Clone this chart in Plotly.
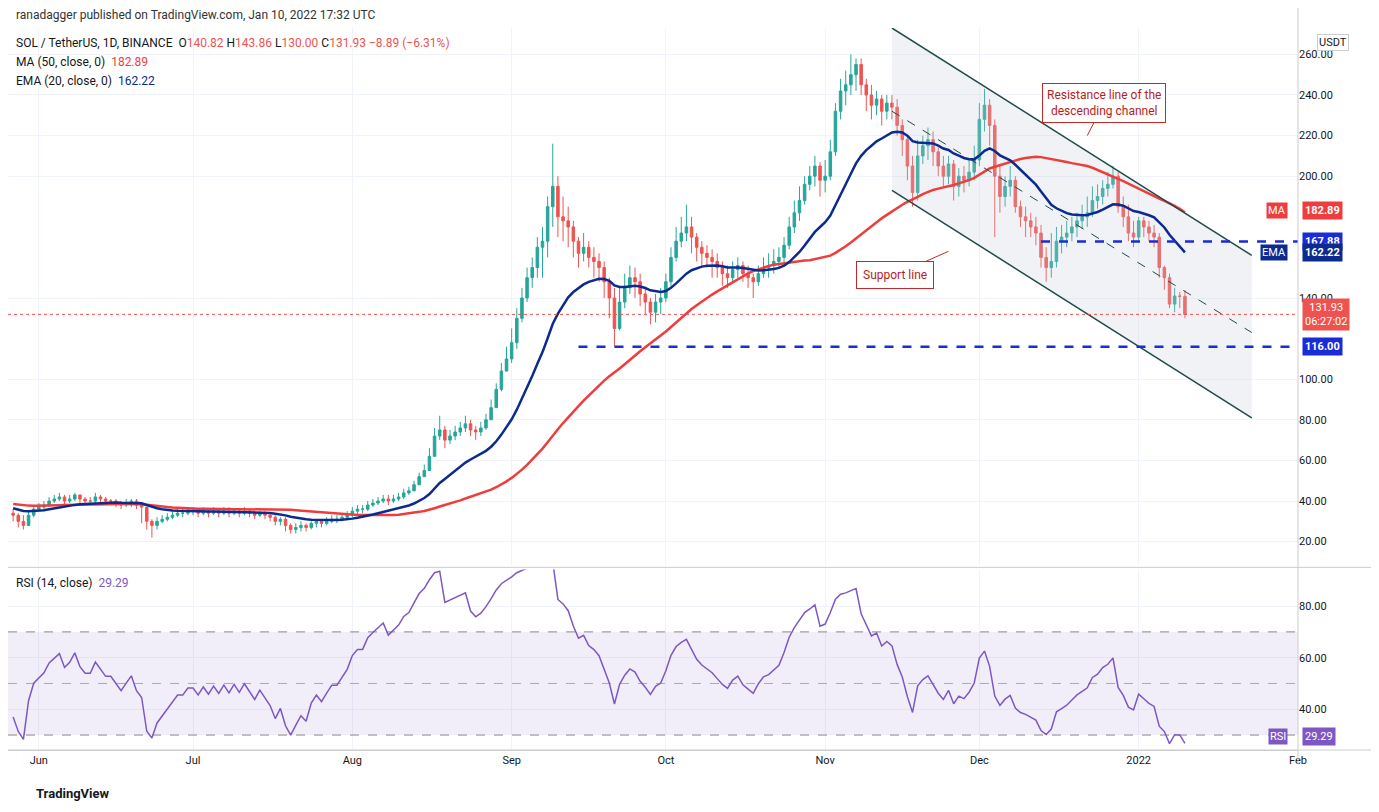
import pandas as pd
import numpy as np
import plotly.graph_objects as go

# earlier May closes (warm-up for indicators, outside visible range)
warmup = [42,43,44,45,44,43,42,43,44,43,42,40,38,36,35,37,34,33,35,37,36,34,33,35,36,34]
dates = pd.date_range("2021-05-27", "2022-01-10", freq="D")

close = [33,30,28,33,36,
 37,38,40,41,42,40,41,43,41,40,40,42,41,40,40,39,38,39,40,38,37,30,28,30,31,32,33,34,34,35,
 35,34,35,34,35,34,35,34,35,34,35,34,33,34,33,32,30,31,28,26,27,28,27,29,30,29,30,31,31,32,33,
 35,36,36,38,39,40,41,40,41,42,44,45,48,52,55,62,72,75,70,72,74,76,78,75,74,76,80,86,95,104,110,
 118,130,140,150,155,165,168,185,195,180,178,175,168,162,165,160,158,155,148,140,125,138,145,150,148,142,138,133,138,140,
 148,160,168,172,175,170,165,162,160,158,155,152,150,154,156,152,150,148,152,155,156,158,160,166,175,182,188,196,200,205,198,
 200,212,232,242,245,250,255,245,240,235,238,232,236,234,225,218,205,192,210,215,218,212,205,200,206,195,200,198,202,208,
 228,235,225,200,190,195,198,185,180,178,175,172,160,155,158,168,170,172,175,178,180,182,188,190,194,196,200,185,180,172,170,
 178,175,172,170,155,150,137,141,140.82,131.93]
high = [36,34,33,35,38,
 39,40,42,43,44,43,43,44,43,42,42,44,43,42,41,41,40,41,41,41,39,37,31,32,33,34,35,36,36,37,
 37,36,37,36,37,36,37,37,36,36,37,36,35,35,35,34,33,32,32,29,29,30,29,30,31,31,32,33,33,34,35,
 37,38,38,40,41,42,43,43,43,44,46,47,50,54,58,66,76,82,77,75,77,79,82,80,77,79,83,90,98,108,116,
 125,135,145,155,160,170,175,190,216,200,190,185,178,170,172,168,165,162,158,150,145,145,152,156,155,152,145,140,142,145,
 152,165,175,180,186,180,172,168,166,164,162,158,156,158,160,158,156,152,156,160,162,164,165,170,180,188,195,200,205,210,207,
 208,218,236,248,252,260,258,258,248,245,242,240,240,240,238,228,220,210,218,220,224,222,214,210,210,208,204,205,208,215,
 236,243,238,228,205,200,205,200,188,185,182,180,176,165,172,175,176,178,180,182,186,190,195,196,198,202,205,202,190,186,178,
 180,180,178,176,172,156,152,145,143,143.86]
low = [30,27,26,28,32,
 35,36,37,39,40,38,39,40,39,38,38,39,39,38,38,37,36,37,37,36,29,26,22,26,29,30,31,32,32,33,
 33,32,33,32,33,32,33,32,33,32,33,32,31,32,31,30,28,28,25,24,24,25,25,26,27,27,28,29,29,30,31,
 32,33,34,35,37,38,39,38,39,40,41,43,45,48,52,55,62,70,66,68,70,72,74,72,70,72,75,80,86,94,104,
 108,115,128,138,145,150,150,160,175,170,168,165,160,155,158,155,150,148,140,130,116,124,135,142,140,136,132,127,128,132,
 138,145,158,165,168,162,158,156,155,150,150,146,145,148,150,148,145,140,146,150,150,152,155,156,164,172,178,186,193,195,190,
 192,198,210,228,235,240,242,240,232,228,230,225,228,228,220,210,198,185,188,206,208,205,200,195,196,188,190,192,195,198,
 205,222,215,170,182,185,190,182,175,170,170,166,155,148,150,155,162,165,168,170,174,175,180,184,186,190,194,182,175,168,165,
 168,170,168,165,150,144,135,133,135,130]
opn = [warmup[-1]] + close[:-1]

tick_dates = ["2021-06-01","2021-07-01","2021-08-01","2021-09-01","2021-10-01","2021-11-01","2021-12-01","2022-01-01","2022-02-01"]
tick_text = ["Jun","Jul","Aug","Sep","Oct","Nov","Dec","2022","Feb"]
price_ticks = [20,40,60,80,100,140,200,220,240,260]
rsi_ticks = [40,60,80]

chan_dates = ["2021-11-14","2022-01-23"]
chan_upper = [273,161]
chan_lower = [193,81]
chan_mid = [232,123]
support_116 = ["2021-09-14", 116.00]
level_168 = ["2021-12-13", 167.88]
last_close = 131.93

full = pd.Series(warmup + close, index=pd.date_range(end="2022-01-10", periods=len(warmup)+len(close), freq="D"))
ma50 = full.rolling(50, min_periods=1).mean().loc[dates]
ema20 = full.ewm(span=20, adjust=False).mean().loc[dates]
d = full.diff().fillna(0)
up = d.clip(lower=0).ewm(alpha=1/14, adjust=False).mean()
dn = (-d.clip(upper=0)).ewm(alpha=1/14, adjust=False).mean()
rsi = (100 - 100/(1+up/dn)).loc[dates]

GREEN, RED, BLUE, LBLUE = "#26a69a", "#ef5350", "#0d2a8f", "#1a2bd8"
X0, X1 = "2021-05-26", "2022-02-01"
fig = go.Figure()
fig.add_trace(go.Scatter(x=[chan_dates[0], chan_dates[1], chan_dates[1], chan_dates[0]],
    y=[chan_upper[0], chan_upper[1], chan_lower[1], chan_lower[0]], fill="toself", mode="lines",
    fillcolor="rgba(200,204,214,0.25)", line=dict(width=0), hoverinfo="skip"))
fig.add_trace(go.Candlestick(x=dates, open=opn, high=high, low=low, close=close,
    increasing=dict(line=dict(color=GREEN, width=1), fillcolor=GREEN),
    decreasing=dict(line=dict(color=RED, width=1), fillcolor=RED), whiskerwidth=0))
fig.add_trace(go.Scatter(x=dates, y=ma50, line=dict(color="#ef3d3d", width=2.5), mode="lines"))
fig.add_trace(go.Scatter(x=dates, y=ema20, line=dict(color=BLUE, width=2.5), mode="lines"))
for ys, dash, w in [(chan_upper, None, 1.5), (chan_lower, None, 1.5), (chan_mid, "dash", 1)]:
    fig.add_trace(go.Scatter(x=chan_dates, y=ys, mode="lines", line=dict(color="#1f4a4a", width=w, dash=dash)))
for start, lvl in [support_116, level_168]:
    fig.add_trace(go.Scatter(x=[start, X1], y=[lvl]*2, mode="lines", line=dict(color=LBLUE, width=2.5, dash="dash")))
fig.add_trace(go.Scatter(x=[X0, X1], y=[last_close]*2, mode="lines", line=dict(color=RED, width=1, dash="dot")))
# RSI
fig.add_trace(go.Scatter(x=[X0, X1], y=[70,70], mode="lines", line=dict(color="#888", width=1, dash="dash"), yaxis="y2"))
fig.add_trace(go.Scatter(x=[X0, X1], y=[30,30], mode="lines", line=dict(color="#888", width=1, dash="dash"),
    fill="tonexty", fillcolor="rgba(126,87,194,0.1)", yaxis="y2"))
fig.add_trace(go.Scatter(x=[X0, X1], y=[50,50], mode="lines", line=dict(color="#aaa", width=1, dash="dash"), yaxis="y2"))
fig.add_trace(go.Scatter(x=dates, y=rsi, mode="lines", line=dict(color="#7e57c2", width=1.5), yaxis="y2"))

TOP, BOT = 20, 742
def py(p): return (BOT - p) / (BOT - TOP)

ann = []
def lab(yv, txt, bg, yref="y"):
    ann.append(dict(x=1.003, xref="paper", y=yv, yref=yref, text=txt, showarrow=False, xanchor="left",
                    bgcolor=bg, font=dict(color="white", size=11, family="Roboto"), borderpad=2))
lab(182.89, "<b>182.89</b>", "#ef3d3d")
lab(167.88, "<b>167.88</b>", LBLUE)
lab(162.22, "<b>162.22</b>", BLUE)
lab(131.93, "131.93<br>06:27:02", RED)
lab(116.00, "<b>116.00</b>", LBLUE)
lab(29.29, "29.29", "#7e57c2", "y2")
HY = 16
ann += [
 dict(x=0.992, xref="paper", y=182.89, yref="y", text="MA", showarrow=False, xanchor="right", bgcolor="#ef3d3d", font=dict(color="white", size=11)),
 dict(x=0.992, xref="paper", y=162.22, yref="y", text="EMA", showarrow=False, xanchor="right", bgcolor=BLUE, font=dict(color="white", size=11)),
 dict(x=0.992, xref="paper", y=29.29, yref="y2", text="RSI", showarrow=False, xanchor="right", bgcolor="#7e57c2", font=dict(color="white", size=11)),
 dict(x=1.015, xref="paper", y=py(42-HY), yref="paper", text="USDT", showarrow=False, xanchor="left", bordercolor="#ccc", borderwidth=1, bgcolor="white", font=dict(size=11, color="#131722")),
 dict(x="2021-12-22", y=220, text="Resistance line of the<br>descending channel", showarrow=True, ax=17, ay=-33,
      arrowhead=0, arrowwidth=1, bgcolor="white", bordercolor="#c62828", borderwidth=1, borderpad=4,
      font=dict(size=12, color="#b71c1c"), arrowcolor="#c62828"),
 dict(x="2021-11-25", y=163, text="Support line", showarrow=True, ax=-54, ay=24, arrowhead=0, arrowwidth=1,
      arrowcolor="#c62828", bgcolor="white", bordercolor="#c62828",
      borderwidth=1, borderpad=6, font=dict(size=12, color="#b71c1c")),
 dict(x=0.005, xref="paper", y=py(14-HY), yref="paper", text="ranadagger published on TradingView.com, Jan 10, 2022 17:32 UTC", showarrow=False, xanchor="left", font=dict(size=12, color="#333")),
 dict(x=0.005, xref="paper", y=py(42-HY), yref="paper", xanchor="left", showarrow=False, font=dict(size=12, color="#131722"),
      text="SOL / TetherUS, 1D, BINANCE  O<span style='color:#ef5350'>140.82</span> H<span style='color:#ef5350'>143.86</span> L<span style='color:#ef5350'>130.00</span> C<span style='color:#ef5350'>131.93 −8.89 (−6.31%)</span>"),
 dict(x=0.005, xref="paper", y=py(61-HY), yref="paper", xanchor="left", showarrow=False, font=dict(size=12, color="#131722"),
      text="MA (50, close, 0)  <span style='color:#ef3d3d'>182.89</span>"),
 dict(x=0.005, xref="paper", y=py(80-HY), yref="paper", xanchor="left", showarrow=False, font=dict(size=12, color="#131722"),
      text="EMA (20, close, 0)  <span style='color:#0d2a8f'>162.22</span>"),
 dict(x=0.005, xref="paper", y=py(584), yref="paper", xanchor="left", showarrow=False, font=dict(size=12, color="#131722"),
      text="RSI (14, close)  <span style='color:#7e57c2'>29.29</span>"),
 dict(x=0.02, xref="paper", y=py(795), yref="paper", xanchor="left", showarrow=False, font=dict(size=13, color="#131722"),
      text="<b>TradingView</b>"),
]

fig.update_layout(
    width=1379, height=812, showlegend=False, plot_bgcolor="white", paper_bgcolor="white",
    margin=dict(l=0, r=89, t=TOP, b=812-BOT), font=dict(family="Roboto", size=11, color="#131722"),
    annotations=ann,
    xaxis=dict(type="date", range=[X0, X1], rangeslider=dict(visible=False),
               tickvals=tick_dates, ticktext=tick_text, showgrid=True, gridcolor="#f0f3fa",
               anchor="y2", showline=True, linecolor="#ccc", ticks="", tickfont=dict(size=11)),
    yaxis=dict(domain=[0.256, 1], range=[8.4, 273], side="right", tickvals=price_ticks,
               tickformat=".2f", gridcolor="#f0f3fa", showline=False, zeroline=False),
    yaxis2=dict(domain=[0, 0.25], range=[24.2, 94.2], side="right", tickvals=rsi_ticks,
                tickformat=".2f", gridcolor="#f0f3fa", zeroline=False),
    shapes=[dict(type="line", xref="paper", yref="paper", x0=0, x1=1.07, y0=0.253, y1=0.253, line=dict(color="#ccc", width=1)),
            dict(type="line", xref="paper", yref="paper", x0=0, x1=1.07, y0=0, y1=0, line=dict(color="#ccc", width=1)),
            dict(type="line", xref="paper", yref="paper", x0=1, x1=1, y0=-0.02, y1=1.03, line=dict(color="#ccc", width=1))],
)
fig.write_html("out.html")
